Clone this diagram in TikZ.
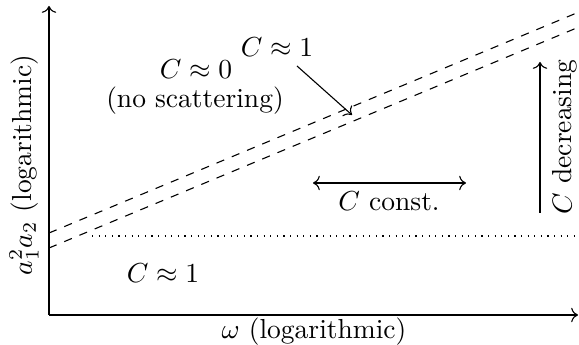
\documentclass[tikz,border=0pt]{standalone}
\usetikzlibrary{arrows.meta}
\begin{document}
\begin{tikzpicture}[x=0.3636pt,y=-0.3636pt,
  lbl/.style={inner sep=0pt, font=\normalsize},
  axis/.style={->, line width=0.4pt},
  bound/.style={dashed, line width=0.4pt},
  ptr/.style={->, line width=0.4pt}]
\useasboundingbox (0,0) rectangle (579,345);
% axes
\coordinate (O) at (49,315);
\coordinate (Xend) at (578,315);
\coordinate (Yend) at (49,6);
\draw[axis] (O) -- (Xend);
\draw[axis] (O) -- (Yend);
% boundaries
\coordinate (U0) at (49,233);
\coordinate (U1) at (579,12);
\coordinate (L0) at (49,248);
\coordinate (L1) at (579,27);
\draw[bound] (U0) -- (U1);
\draw[bound] (L0) -- (L1);
% dotted level
\coordinate (D0) at (92,236);
\coordinate (D1) at (579,236);
\draw[dotted, line width=0.4pt] (D0) -- (D1);
% labels
\node[lbl] (c0) at (196,69) {$C\approx 0$};
\node[lbl] (ns) at (195,101) {(no scattering)};
\node[lbl] (c1top) at (277,47) {$C\approx 1$};
\coordinate (tip) at (352,115);
\coordinate (tail) at (297,66);
\draw[ptr] (tail) -- (tip);
\node[lbl] (c1low) at (163,273) {$C\approx 1$};
\coordinate (hl) at (313,183);
\coordinate (hr) at (466,183);
\draw[<->, line width=0.4pt] (hl) -- (hr);
\node[lbl] (cc) at (389,201) {$C$ const.};
\coordinate (vb) at (540,213);
\coordinate (vt) at (540,62);
\draw[ptr] (vb) -- (vt);
\node[lbl, rotate=90] (cd) at (565,137) {$C$ decreasing};
\node[lbl, rotate=90] (ylab) at (24,165) {$a_1^2a_2$ (logarithmic)};
\node[lbl] (xlab) at (314,332) {$\omega$ (logarithmic)};
\end{tikzpicture}
\end{document}
